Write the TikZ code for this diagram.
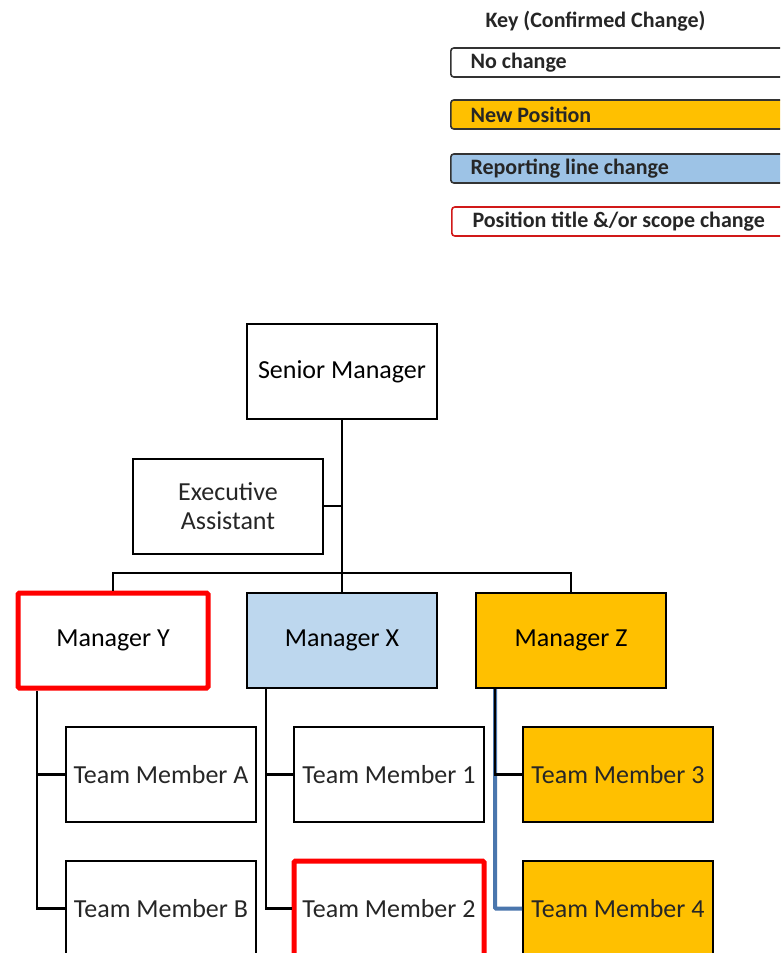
\documentclass[tikz,border=0pt]{standalone}
\usepackage{fontspec}
\setmainfont{Carlito}
\definecolor{orgblue}{HTML}{BDD7EE}
\definecolor{orgamber}{HTML}{FFC000}
\definecolor{keyblue}{HTML}{9DC3E6}
\definecolor{lineblue}{HTML}{4A76AD}
\definecolor{softtext}{HTML}{262626}
\begin{document}
\begin{tikzpicture}[x=1pt,y=-1pt,
  orgbox/.style={draw=black,line width=2pt,minimum width=190pt,minimum height=95pt,inner sep=0pt,
    font=\fontsize{26}{30}\selectfont,align=center},
  lightbox/.style={orgbox,text=softtext},
  redbox/.style={orgbox,draw=red,line width=5pt,rounded corners=1.5pt},
  keybox/.style={draw=black!80,line width=1.6pt,rounded corners=3pt,minimum width=340pt,minimum height=29pt,
    inner sep=0pt},
  keytext/.style={anchor=west,font=\fontsize{22}{25}\selectfont\bfseries,text=black!85},
  conn/.style={line width=2.2pt,draw=black},
  blueconn/.style={line width=4pt,draw=lineblue,rounded corners=1pt}]
\clip (0,0) rectangle (780,953);
\fill[white] (0,0) rectangle (780,953);
% Key
\node[keytext] (keytitle) at (482,21) {Key (Confirmed Change)};
\node[keybox,fill=white,anchor=west] (k1) at (450,62.5) {};
\node[keytext] (k1t) at (467,63) {No change};
\node[keybox,fill=orgamber,anchor=west] (k2) at (450,114.5) {};
\node[keytext] (k2t) at (467,115) {New Position};
\node[keybox,fill=keyblue,anchor=west] (k3) at (450,168.5) {};
\node[keytext] (k3t) at (467,169) {Reporting line change};
\node[keybox,draw=red!80!black!90,fill=white,anchor=west] (k4) at (451,221.5) {};
\node[keytext] (k4t) at (469,222) {Position title \&/or scope change};
% Chart nodes
\node[orgbox] (sm) at (342,371.5) {Senior Manager};
\node[lightbox] (ea) at (228,506) {Executive\\[-1pt]Assistant};
\node[redbox] (my) at (113,640.5) {Manager Y};
\node[orgbox,fill=orgblue] (mx) at (342,640.5) {Manager X};
\node[orgbox,fill=orgamber] (mz) at (571,640.5) {Manager Z};
\node[lightbox] (ta) at (161,774.5) {Team Member A};
\node[lightbox] (tb) at (161,908.5) {Team Member B};
\node[lightbox] (t1) at (389,774.5) {Team Member 1};
\node[redbox,text=softtext] (t2) at (389,908.5) {Team Member 2};
\node[orgbox,fill=orgamber,text=softtext] (t3) at (618,774.5) {Team Member 3};
\node[orgbox,fill=orgamber,text=softtext] (t4) at (618,908.5) {Team Member 4};
% Connectors
\coordinate (bus) at (342,573);
\draw[conn] (sm.south) -- (bus);
\draw[conn] (ea.east) -- (ea.east -| sm.south);
\draw[conn] (my.north) |- (bus) -| (mz.north);
\draw[conn] (bus) -- (mx.north);
\coordinate (yl) at ([xshift=-76pt]my.south);
\draw[conn] (yl) |- (tb.west);
\draw[conn] (yl |- ta.west) -- (ta.west);
\coordinate (xl) at ([xshift=-76pt]mx.south);
\draw[conn] (xl) |- (t2.west);
\draw[conn] (xl |- t1.west) -- (t1.west);
\coordinate (zl) at ([xshift=-76pt]mz.south);
\draw[blueconn] (zl) |- (t4.west);
\draw[conn] (zl) |- (t3.west);
\end{tikzpicture}
\end{document}
